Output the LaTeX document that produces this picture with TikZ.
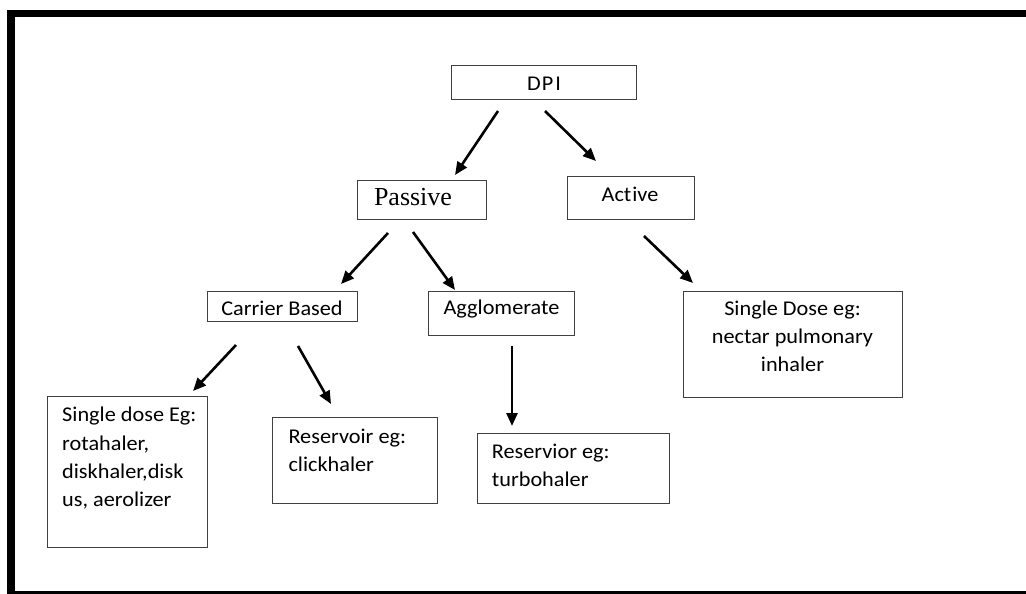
\documentclass[tikz,border=0pt]{standalone}
\usepackage{fontspec}
\setmainfont{Carlito}
\newfontfamily\calfont{Carlito}[FakeStretch=1.06]
\newfontfamily\tmsfont{Liberation Serif}
\usetikzlibrary{arrows.meta}
\begin{document}
\begin{tikzpicture}[x=1pt,y=-1pt,
  box/.style={draw=black!75, line width=1.3pt, fill=white, inner sep=0pt, anchor=north west},
  lbl/.style={inner sep=0pt, font=\calfont\fontsize{21}{28.3}\selectfont},
  arr/.style={line width=2.6pt, -{Triangle[length=13pt,width=11pt]}}]
\useasboundingbox[fill=white] (0,0) rectangle (1026,594);
% frame
\fill[black] (7,10) rectangle (1026,17);
\fill[black] (7,10) rectangle (15,594);
\fill[black] (7,591) rectangle (1026,594);
% boxes
\node[box, minimum width=185pt, minimum height=34pt] (dpi) at (451,65) {};
\node[box, minimum width=129pt, minimum height=39pt] (passive) at (357,180) {};
\node[box, minimum width=127pt, minimum height=43pt] (active) at (567,176) {};
\node[box, minimum width=150pt, minimum height=30pt] (carrier) at (207,291) {};
\node[box, minimum width=146pt, minimum height=44pt] (agglo) at (428,291) {};
\node[box, minimum width=160pt, minimum height=151pt] (single) at (47,396) {};
\node[box, minimum width=165pt, minimum height=86pt] (resv1) at (272,417) {};
\node[box, minimum width=192pt, minimum height=70pt] (resv2) at (477,433) {};
\node[box, minimum width=219pt, minimum height=106pt] (sdose) at (683,291) {};
% texts
\node[lbl, anchor=base] (tdpi) at (544,90.7) {D\kern1pt P\kern2pt I};
\node[inner sep=0pt, font=\tmsfont\fontsize{26}{30}\selectfont, anchor=base] (tpassive) at (413,205) {Passive};
\node[lbl, anchor=base] (tactive) at (630,201.7) {Act\kern1pt ive};
\node[lbl, anchor=base] (tcarrier) at (282,315) {Carrier Based};
\node[lbl, anchor=base] (tagglo) at (501.5,314.3) {Agglomerate};
\node[lbl, anchor=base west] (tsingle) at (62,421.7) {\begin{tabular}[t]{@{}l@{}}Single dose Eg:\\rotahaler,\\diskhaler,disk\\us, aerolizer\end{tabular}};
\node[lbl, anchor=base west] (tresv1) at (288.3,443.3) {\begin{tabular}[t]{@{}l@{}}Reservoir eg:\\clickhaler\end{tabular}};
\node[lbl, anchor=base west] (tresv2) at (491.7,458.3) {\begin{tabular}[t]{@{}l@{}}Reservior eg:\\turbohaler\end{tabular}};
\node[lbl, anchor=base] (tsdose) at (792.5,315) {\begin{tabular}[t]{@{}c@{}}Single Dose eg:\\nectar pulmonary\\inhaler\end{tabular}};
% arrow end points
\coordinate (a1s) at (498,111); \coordinate (a1e) at (455,175);
\coordinate (a2s) at (545,111); \coordinate (a2e) at (596,161);
\coordinate (a3s) at (388,233); \coordinate (a3e) at (341,284);
\coordinate (a4s) at (413,232); \coordinate (a4e) at (455,290);
\coordinate (a5s) at (236,345); \coordinate (a5e) at (193,391);
\coordinate (a6s) at (298,346); \coordinate (a6e) at (331,404);
\coordinate (a7s) at (512,346); \coordinate (a7e) at (512,426);
\coordinate (a8s) at (644,236); \coordinate (a8e) at (693,283);
\draw[arr] (a1s) -- (a1e);
\draw[arr] (a2s) -- (a2e);
\draw[arr] (a3s) -- (a3e);
\draw[arr] (a4s) -- (a4e);
\draw[arr] (a5s) -- (a5e);
\draw[arr] (a6s) -- (a6e);
\draw[arr] (a7s) -- (a7e);
\draw[arr] (a8s) -- (a8e);
\end{tikzpicture}
\end{document}
